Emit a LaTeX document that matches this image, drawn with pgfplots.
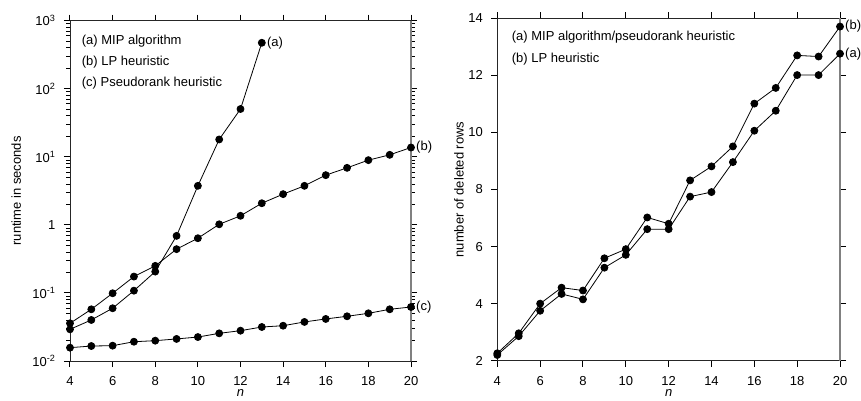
\documentclass[border=0pt]{standalone}
\usepackage{fontspec}
\setmainfont{Liberation Sans}
\usepackage{pgfplots}
\pgfplotsset{compat=1.18}

\pgfplotsset{
  panel/.style={
    scale only axis,
    clip=false,
    xmin=4, xmax=20,
    xtick={4,6,...,20},
    tick align=outside,
    xtick pos=both, ytick pos=both,
    major tick length=6pt,
    minor tick length=3.5pt,
    /pgf/number format/assume math mode=true,
    axis line style={black!85, line width=0.9pt},
    xtick style={draw=black, line width=1pt},
    ytick style={draw=black, line width=1pt},
    minor y tick style={line width=0.8pt},
    tick label style={font=\fontsize{13}{15}\selectfont},
    xticklabel style={yshift=-6pt},
    yticklabel style={xshift=-5pt},
    label style={font=\fontsize{13}{15}\selectfont},
    xlabel={\textit{n}},
    x label style={at={(axis description cs:0.5,-0.094)}, anchor=center},
  },
  curve/.style={black, line width=0.8pt, mark=*, mark size=3.5pt, mark options={fill=black}},
}

\begin{document}
\begin{tikzpicture}[font=\fontsize{13}{15}\selectfont]

% left: runtimes
\begin{axis}[panel,
  at={(70pt,39pt)}, anchor=south west,
  width=341pt, height=340.3pt,
  ymode=log, ymin=0.01, ymax=1000,
  ytick={0.01,0.1,1,10,100,1000},
  yticklabels={10\textsuperscript{-2},10\textsuperscript{-1},1,10\textsuperscript{1},10\textsuperscript{2},10\textsuperscript{3}},
  minor ytick={0.02,0.03,0.04,0.05,0.06,0.07,0.08,0.09,0.2,0.3,0.4,0.5,0.6,0.7,0.8,0.9,2,3,4,5,6,7,8,9,20,30,40,50,60,70,80,90,200,300,400,500,600,700,800,900},
  ylabel={runtime in seconds},
  y label style={at={(axis description cs:-0.158,0.5)}, anchor=center},
]
\draw[gray, line width=1.4pt] (rel axis cs:1,0) -- (rel axis cs:1,1);
% (a) MIP algorithm
\addplot[curve] coordinates {
  (4,0.0292) (5,0.0401) (6,0.0596) (7,0.108) (8,0.206) (9,0.69)
  (10,3.75) (11,18) (12,50.4) (13,474)
};
% (b) LP heuristic
\addplot[curve] coordinates {
  (4,0.0358) (5,0.0575) (6,0.099) (7,0.174) (8,0.25) (9,0.44) (10,0.637)
  (11,1.02) (12,1.36) (13,2.08) (14,2.83) (15,3.75) (16,5.38) (17,6.89)
  (18,8.94) (19,10.7) (20,13.7)
};
% (c) pseudorank heuristic
\addplot[curve] coordinates {
  (4,0.0157) (5,0.0166) (6,0.0168) (7,0.0192) (8,0.0199) (9,0.0211)
  (10,0.0225) (11,0.0255) (12,0.0279) (13,0.0316) (14,0.033) (15,0.0375)
  (16,0.0415) (17,0.0454) (18,0.0502) (19,0.0575) (20,0.0622)
};
\node[anchor=west, inner sep=1pt] at ([xshift=4pt]axis cs:13,474) {(a)};
\node[anchor=west, inner sep=1pt] at ([xshift=4pt]axis cs:20,13.7) {(b)};
\node[anchor=west, inner sep=1pt] at ([xshift=4pt]axis cs:20,0.0622) {(c)};
\node[anchor=west, inner sep=0pt] at ([xshift=11.7pt,yshift=-20pt]rel axis cs:0,1) {(a) MIP algorithm};
\node[anchor=west, inner sep=0pt] at ([xshift=11.7pt,yshift=-41pt]rel axis cs:0,1) {(b) LP heuristic};
\node[anchor=west, inner sep=0pt] at ([xshift=11.7pt,yshift=-62.6pt]rel axis cs:0,1) {(c) Pseudorank heuristic};
\end{axis}

% right: deleted rows
\begin{axis}[panel,
  at={(497.3pt,39.3pt)}, anchor=south west,
  width=342.7pt, height=342.4pt,
  ymin=2, ymax=14,
  ytick={2,4,...,14},
  ylabel={number of deleted rows},
  y label style={at={(axis description cs:-0.112,0.5)}, anchor=center},
]
\draw[gray, line width=1.4pt] (rel axis cs:1,0) -- (rel axis cs:1,1);
% (a) MIP algorithm / pseudorank heuristic
\addplot[curve] coordinates {
  (4,2.20) (5,2.86) (6,3.75) (7,4.34) (8,4.15) (9,5.26) (10,5.71) (11,6.61)
  (12,6.61) (13,7.75) (14,7.91) (15,8.96) (16,10.06) (17,10.76) (18,12.01)
  (19,12.01) (20,12.76)
};
% (b) LP heuristic
\addplot[curve] coordinates {
  (4,2.26) (5,2.96) (6,4.00) (7,4.56) (8,4.46) (9,5.59) (10,5.91) (11,7.02)
  (12,6.80) (13,8.32) (14,8.81) (15,9.51) (16,11.01) (17,11.56) (18,12.70)
  (19,12.66) (20,13.71)
};
\node[anchor=west, inner sep=1pt] at ([xshift=4pt]axis cs:20,13.71) {(b)};
\node[anchor=west, inner sep=1pt] at ([xshift=4pt]axis cs:20,12.76) {(a)};
\node[anchor=west, inner sep=0pt] at ([xshift=14.4pt,yshift=-18.4pt]rel axis cs:0,1) {(a) MIP algorithm/pseudorank heuristic};
\node[anchor=west, inner sep=0pt] at ([xshift=14.4pt,yshift=-41pt]rel axis cs:0,1) {(b) LP heuristic};
\end{axis}

\pgfresetboundingbox
\path[use as bounding box] (0,0) rectangle (861pt,400pt);
\end{tikzpicture}
\end{document}
